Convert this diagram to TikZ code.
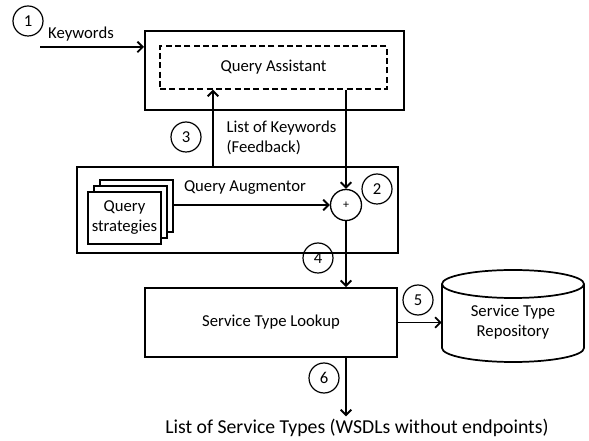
\documentclass[tikz,border=0pt]{standalone}
\usepackage{fontspec}
\setmainfont{Carlito}
\usetikzlibrary{arrows.meta}
\tikzset{
  txt/.style={font=\fontsize{12.5}{15}\selectfont, inner sep=1pt},
  num/.style={circle, draw, line width=0.9pt, minimum size=22.5pt, inner sep=0pt, font=\fontsize{12.5}{15}\selectfont},
  bigbox/.style={draw, line width=1.5pt, inner sep=0pt},
  qsbox/.style={draw, line width=1.3pt, fill=white, minimum width=54.75pt, minimum height=39pt, inner sep=0pt, align=center, font=\fontsize{12.5}{15}\selectfont},
  arr/.style={line width=1.4pt, -{Straight Barb[length=4pt,width=8pt,line width=1.4pt]}},
  ln/.style={line width=1.4pt}
}
\begin{document}
\begin{tikzpicture}[x=0.75pt,y=-0.75pt]
\useasboundingbox (0,0) rectangle (589,441);
% Query Assistant
\node[bigbox, minimum width=194.25pt, minimum height=59.25pt] (qaout) at (274.5,70.5) {};
\node[draw, dashed, dash pattern=on 4.5pt off 2.5pt, line width=1.1pt, minimum width=170.25pt, minimum height=32.25pt, inner sep=0pt, txt] (qa) at (273.5,67.5) {Query Assistant};
\node[num] (c1) at (28,21) {1};
\node[txt] (kw) at (81,34) {Keywords};
\coordinate (kwstart) at (40,47);
\draw[arr] (kwstart) -- (kwstart -| qaout.west);
% Feedback
\node[num] (c3) at (186,137) {3};
\node[txt, anchor=west, align=left] (fb) at (225,138) {List of Keywords\\(Feedback)};
% Query Augmentor
\node[bigbox, line width=1.3pt, minimum width=240.75pt, minimum height=64.5pt] (qaug) at (237.5,210) {};
\node[txt] (qaugtext) at (245,188) {Query Augmentor};
\node[qsbox] (qs3) at (136.5,206) {};
\node[qsbox] (qs2) at (130.5,212) {};
\node[qsbox] (qs) at (124.5,218) {Query\\[0pt]strategies};
\node[circle, draw, line width=1pt, minimum size=23.25pt, inner sep=0pt, font=\small] (plus) at (346,205) {+};
\node[num] (c2) at (377,189) {2};
\node[num] (c4) at (318,258) {4};
\coordinate (fbx) at (213,0);
\draw[arr] (qaug.north -| fbx) -- (qa.south -| fbx);
\draw[arr] (qa.south -| plus.north) -- (plus.north);
\draw[arr] (qs3.east |- plus.west) -- (plus.west);
% Service Type Lookup
\node[bigbox, line width=1.3pt, minimum width=189pt, minimum height=51.75pt, txt] (stl) at (271,322.5) {Service Type Lookup};
\draw[arr] (plus.south) -- (stl.north -| plus.south);
\node[num] (c5) at (418,300) {5};
% Repository cylinder
\node[minimum width=106.5pt, minimum height=69pt, inner sep=0pt, align=center, txt] (repo) at (513,322) {Service Type\\Repository};
\draw[line width=1.3pt] (442,284) -- (442,348) arc[start angle=180, end angle=0, x radius=71, y radius=14] -- (584,284);
\draw[line width=1.3pt] (513,284) ellipse[x radius=71, y radius=14];
\draw[arr] (stl.east) -- (stl.east -| repo.west);
% Output
\node[num] (c6) at (324,378) {6};
\node[font=\fontsize{14.8}{17}\selectfont, inner sep=1pt] (out) at (357,428) {List of Service Types (WSDLs without endpoints)};
\draw[arr] (stl.south -| plus) -- ([yshift=1pt]out.north -| plus);
\end{tikzpicture}
\end{document}
